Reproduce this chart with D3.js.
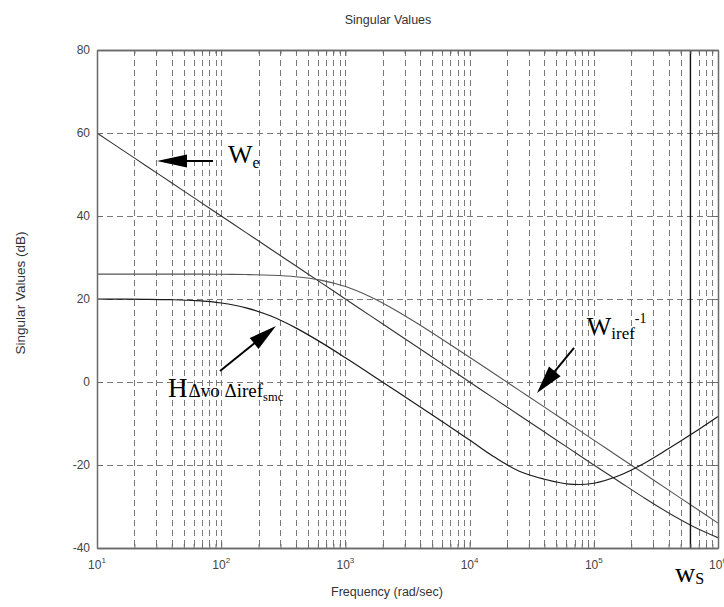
<!DOCTYPE html>
<html>
<head>
<meta charset="utf-8">
<script src="https://cdn.jsdelivr.net/npm/d3@7"></script>
<style>
  html, body { margin: 0; padding: 0; background: #fff; }
  svg { display: block; }
  .sans { font-family: "Liberation Sans", Arial, Helvetica, sans-serif; }
  .serif { font-family: "Liberation Serif", "Times New Roman", "DejaVu Serif", serif; }
</style>
</head>
<body>
<svg id="chart" width="724" height="607"></svg>
<script>
// Frequency samples, as log10(rad/sec)
const logFreq = [1.0, 1.2, 1.4, 1.6, 1.8, 2.0, 2.2, 2.4, 2.6, 2.8, 3.0, 3.2, 3.4,
                 3.6, 3.8, 4.0, 4.2, 4.4, 4.6, 4.8, 5.0, 5.2, 5.4, 5.6, 5.8, 6.0];

// Performance weight W_e (dB)
const weDb = [60.0, 56.0, 52.0, 48.0, 44.0, 40.0, 36.0, 32.0, 28.0, 24.0, 20.0, 16.0, 12.0,
              8.0, 4.0, 0.0, -4.0, -8.0, -12.0, -16.0, -20.0, -23.9, -27.8, -31.5, -34.8, -37.5];

// Inverse reference weight W_iref^-1 (dB)
const wirefInvDb = [26.0, 26.0, 26.0, 26.0, 26.0, 25.96, 25.89, 25.73, 25.36, 24.54, 22.99, 20.54, 17.36,
                    13.73, 9.89, 5.96, 1.98, -2.01, -6.0, -10.0, -14.0, -18.0, -22.0, -26.0, -30.0, -34.0];

// Closed-loop transfer H_{Δvo Δiref,smc} (dB)
const hDb = [19.99, 19.97, 19.93, 19.83, 19.59, 19.03, 17.88, 15.89, 13.04, 9.61, 5.85, 1.95, -2.0,
             -5.96, -9.92, -14.0, -18.1, -21.5, -23.4, -24.6, -24.4, -22.6, -19.7, -16.1, -12.3, -8.3];

// Axis ticks
const xTickExponents = [1, 2, 3, 4, 5, 6];
const yTicks = [-40, -20, 0, 20, 40, 60, 80];

// Switching frequency marker (rad/sec)
const wsFreq = 6.0e5;

const svg = d3.select("#chart");
const plot = { left: 97, right: 718, top: 50, bottom: 548 };

const x = d3.scaleLog().domain([10, 1e6]).range([plot.left, plot.right]);
const y = d3.scaleLinear().domain([-40, 80]).range([plot.bottom, plot.top]);

const allXTicks = x.ticks();           // 10,20,...,90,100,200,... 1e6
const majorX = xTickExponents.map(e => Math.pow(10, e));
const minorX = allXTicks.filter(v => !majorX.some(m => Math.abs(m - v) / m < 1e-9));

svg.append("defs").append("clipPath").attr("id", "plotClip")
  .append("rect")
  .attr("x", plot.left).attr("y", plot.top)
  .attr("width", plot.right - plot.left).attr("height", plot.bottom - plot.top);

// Grid
const grid = svg.append("g").attr("stroke", "#7a7a7a").attr("stroke-width", 1)
  .attr("stroke-dasharray", "6,4").attr("fill", "none");
allXTicks.filter(v => v > 10 && v < 1e6).forEach(v => {
  grid.append("line")
    .attr("x1", Math.round(x(v)) + 0.5).attr("x2", Math.round(x(v)) + 0.5)
    .attr("y1", plot.top).attr("y2", plot.bottom);
});
yTicks.filter(v => v > -40 && v < 80).forEach(v => {
  grid.append("line")
    .attr("x1", plot.left).attr("x2", plot.right)
    .attr("y1", Math.round(y(v)) + 0.5).attr("y2", Math.round(y(v)) + 0.5);
});

// Curves
const line = d3.line()
  .x(d => x(Math.pow(10, d[0])))
  .y(d => y(d[1]))
  .curve(d3.curveCatmullRom.alpha(0.5));

const curves = svg.append("g").attr("clip-path", "url(#plotClip)").attr("fill", "none");
const series = [
  { values: weDb, color: "#333", width: 1.1 },
  { values: wirefInvDb, color: "#555", width: 1.1 },
  { values: hDb, color: "#1a1a1a", width: 1.2 }
];
series.forEach(s => {
  curves.append("path")
    .datum(logFreq.map((e, i) => [e, s.values[i]]))
    .attr("d", line)
    .attr("stroke", s.color)
    .attr("stroke-width", s.width);
});

// Switching frequency line
svg.append("line")
  .attr("x1", x(wsFreq)).attr("x2", x(wsFreq))
  .attr("y1", plot.top).attr("y2", plot.bottom)
  .attr("stroke", "#111").attr("stroke-width", 1.4);

// Axes (box with inward ticks)
const axisColor = "#6a6a6a";
const fmtNone = () => "";

const bottomAxis = svg.append("g").attr("transform", `translate(0,${plot.bottom})`)
  .call(d3.axisBottom(x).tickValues(majorX).tickSizeInner(-6).tickSizeOuter(0).tickFormat(fmtNone));
const bottomMinor = svg.append("g").attr("transform", `translate(0,${plot.bottom})`)
  .call(d3.axisBottom(x).tickValues(minorX).tickSizeInner(-4).tickSizeOuter(0).tickFormat(fmtNone));
const topAxis = svg.append("g").attr("transform", `translate(0,${plot.top})`)
  .call(d3.axisTop(x).tickValues(majorX).tickSizeInner(-6).tickSizeOuter(0).tickFormat(fmtNone));
const topMinor = svg.append("g").attr("transform", `translate(0,${plot.top})`)
  .call(d3.axisTop(x).tickValues(minorX).tickSizeInner(-4).tickSizeOuter(0).tickFormat(fmtNone));
const leftAxis = svg.append("g").attr("transform", `translate(${plot.left},0)`)
  .call(d3.axisLeft(y).tickValues(yTicks).tickSizeInner(-6).tickSizeOuter(0).tickPadding(7)
        .tickFormat(d => String(d)));
const rightAxis = svg.append("g").attr("transform", `translate(${plot.right},0)`)
  .call(d3.axisRight(y).tickValues(yTicks).tickSizeInner(-6).tickSizeOuter(0).tickFormat(fmtNone));

[bottomAxis, bottomMinor, topAxis, topMinor, leftAxis, rightAxis].forEach(g => {
  g.select(".domain").attr("stroke", axisColor).attr("stroke-width", 1.5);
  g.selectAll(".tick line").attr("stroke", axisColor);
});
leftAxis.selectAll(".tick text")
  .attr("class", "sans").attr("font-size", 12).attr("fill", "#444");

// Decade labels 10^n
const xLabels = svg.append("g").attr("class", "sans").attr("fill", "#444");
xTickExponents.forEach(e => {
  const t = xLabels.append("text")
    .attr("x", x(Math.pow(10, e)))
    .attr("y", plot.bottom + 21)
    .attr("text-anchor", "middle")
    .attr("font-size", 12);
  t.append("tspan").text("10");
  t.append("tspan").attr("dy", -6).attr("font-size", 8).text(String(e));
});

// Titles
svg.append("text").attr("class", "sans")
  .attr("x", 388).attr("y", 24).attr("text-anchor", "middle")
  .attr("font-size", 12.5).attr("fill", "#333").text("Singular Values");
svg.append("text").attr("class", "sans")
  .attr("x", 387).attr("y", 596).attr("text-anchor", "middle")
  .attr("font-size", 12.5).attr("fill", "#333").text("Frequency (rad/sec)");
svg.append("text").attr("class", "sans")
  .attr("transform", `translate(25,${(plot.top + plot.bottom) / 2 - 6}) rotate(-90)`)
  .attr("text-anchor", "middle")
  .attr("font-size", 13.5).attr("fill", "#333").text("Singular Values (dB)");

// Annotation arrows, anchored in (rad/sec, dB)
function arrow(from, to, headLen, headHalf) {
  const x0 = x(from[0]), y0 = y(from[1]);
  const x1 = x(to[0]), y1 = y(to[1]);
  const dx = x1 - x0, dy = y1 - y0;
  const len = Math.hypot(dx, dy);
  const ux = dx / len, uy = dy / len;
  const bx = x1 - ux * headLen, by = y1 - uy * headLen;
  const g = svg.append("g");
  g.append("line")
    .attr("x1", x0).attr("y1", y0).attr("x2", bx + ux * 2).attr("y2", by + uy * 2)
    .attr("stroke", "#000").attr("stroke-width", 2);
  g.append("path")
    .attr("d", `M${x1},${y1}L${bx - uy * headHalf},${by + ux * headHalf}L${bx + uy * headHalf},${by - ux * headHalf}Z`)
    .attr("fill", "#000");
}
arrow([85.9, 53.25], [30.4, 53.25], 30, 6.5);
arrow([97.8, 2.65], [276, 13.5], 28, 7);
arrow([69.3e3, 8.2], [34.9e3, -2.65], 28, 7.5);

// Annotation labels
const labels = svg.append("g").attr("class", "serif").attr("fill", "#000");

const we = labels.append("text").attr("x", x(113.5)).attr("y", y(52.8));
we.append("tspan").attr("font-size", 26).text("W");
we.append("tspan").attr("font-size", 16).attr("dy", 5).text("e");

const h = labels.append("text").attr("x", x(37.3)).attr("y", y(-3.6));
h.append("tspan").attr("font-size", 27).text("H");
h.append("tspan").attr("font-size", 19).attr("dx", 1).text("Δvo Δiref");
h.append("tspan").attr("font-size", 12.5).attr("dy", 4).text("smc");

const wi = labels.append("text").attr("x", x(87.7e3)).attr("y", y(11.3));
wi.append("tspan").attr("font-size", 26).text("W");
wi.append("tspan").attr("font-size", 17).attr("dy", 4).text("iref");
wi.append("tspan").attr("font-size", 14).attr("dy", -16).text("-1");

const ws = labels.append("text").attr("x", x(4.5e5)).attr("y", 581.5);
ws.append("tspan").attr("font-size", 28).text("w");
ws.append("tspan").attr("font-size", 16).attr("dy", 2.5).text("S");
</script>
</body>
</html>
